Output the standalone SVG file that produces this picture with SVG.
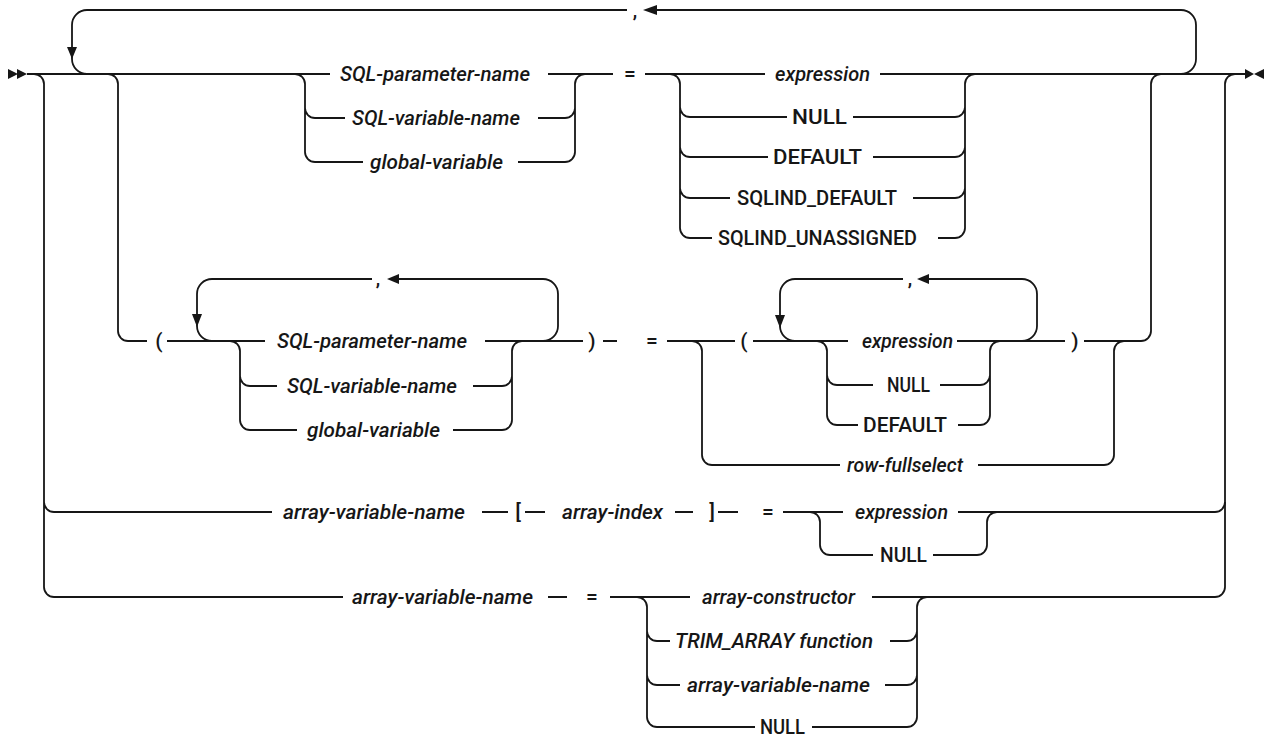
<svg xmlns="http://www.w3.org/2000/svg" width="1269" height="737" viewBox="0 0 1269 737">
<style>
.c{fill:none;stroke:#161616;stroke-width:1.8}
.m{fill:#161616}
text{font-family:Roboto,"Liberation Sans",sans-serif;font-size:21px;font-weight:500;fill:#161616}
.i{font-style:italic}
.s{text-anchor:middle}
.k{font-size:18px;font-weight:bold}
</style>
<rect width="1269" height="737" fill="#fff"/>
<g id="connectors">
<path class="c" d="M27,74 H330 M548,74 H613 M645,74 H765 M880,74 H1245"/>
<path class="c" d="M34,74 A10,10 0 0 1 44,84 V587 A10,10 0 0 0 54,597 H343 M44,502 A10,10 0 0 0 54,512 H272"/>
<path class="c" d="M108,74 A10,10 0 0 1 118,84 V331 A10,10 0 0 0 128,341 H147"/>
<path class="c" d="M627,10 H87 A15,15 0 0 0 72,25 V59 A15,15 0 0 0 87,74"/>
<path class="c" d="M1181,74 A15,15 0 0 0 1196,59 V25 A15,15 0 0 0 1181,10 H657"/>
<path class="c" d="M295,74 A10,10 0 0 1 305,84 V152 A10,10 0 0 0 315,162 H363 M305,108 A10,10 0 0 0 315,118 H345"/>
<path class="c" d="M518,162 H565 A10,10 0 0 0 575,152 V84 A10,10 0 0 1 585,74 M538,118 H565 A10,10 0 0 0 575,108"/>
<path class="c" d="M670,74 A10,10 0 0 1 680,84 V228 A10,10 0 0 0 690,238 H712 M680,107 A10,10 0 0 0 690,117 H787 M680,147 A10,10 0 0 0 690,157 H768 M680,188 A10,10 0 0 0 690,198 H730"/>
<path class="c" d="M938,238 H955 A10,10 0 0 0 965,228 V84 A10,10 0 0 1 975,74 M853,117 H955 A10,10 0 0 0 965,107 M873,157 H955 A10,10 0 0 0 965,147 M913,198 H955 A10,10 0 0 0 965,188"/>
<path class="c" d="M167,341 H265 M372,279 H212 A15,15 0 0 0 197,294 V326 A15,15 0 0 0 212,341 M543,341 A15,15 0 0 0 558,326 V294 A15,15 0 0 0 543,279 H398"/>
<path class="c" d="M230,341 A10,10 0 0 1 240,351 V420 A10,10 0 0 0 250,430 H297 M240,376 A10,10 0 0 0 250,386 H277"/>
<path class="c" d="M485,341 H583 M453,430 H502 A10,10 0 0 0 512,420 V351 A10,10 0 0 1 522,341 M473,386 H502 A10,10 0 0 0 512,376"/>
<path class="c" d="M603,341 H617 M667,341 H735 M753,341 H848"/>
<path class="c" d="M692,341 A10,10 0 0 1 702,351 V455 A10,10 0 0 0 712,465 H840 M978,465 H1104 A10,10 0 0 0 1114,455 V351 A10,10 0 0 1 1124,341"/>
<path class="c" d="M903,279 H795 A15,15 0 0 0 780,294 V326 A15,15 0 0 0 795,341 M1022,341 A15,15 0 0 0 1037,326 V294 A15,15 0 0 0 1022,279 H928"/>
<path class="c" d="M817,341 A10,10 0 0 1 827,351 V415 A10,10 0 0 0 837,425 H858 M827,375 A10,10 0 0 0 837,385 H873"/>
<path class="c" d="M957,341 H1065 M958,425 H980 A10,10 0 0 0 990,415 V351 A10,10 0 0 1 1000,341 M940,385 H980 A10,10 0 0 0 990,375"/>
<path class="c" d="M1084,341 H1141 A10,10 0 0 0 1151,331 V84 A10,10 0 0 1 1161,74"/>
<path class="c" d="M482,512 H508 M525,512 H545 M675,512 H693 M718,512 H738 M783,512 H843 M958,512 H1215 A10,10 0 0 0 1225,502 V84 A10,10 0 0 1 1235,74"/>
<path class="c" d="M810,512 A10,10 0 0 1 820,522 V545 A10,10 0 0 0 830,555 H873 M933,555 H977 A10,10 0 0 0 987,545 V522 A10,10 0 0 1 997,512"/>
<path class="c" d="M548,597 H567 M610,597 H690 M872,597 H1215 A10,10 0 0 0 1225,587 V502"/>
<path class="c" d="M637,597 A10,10 0 0 1 647,607 V717 A10,10 0 0 0 657,727 H755 M647,631 A10,10 0 0 0 657,641 H670 M647,675 A10,10 0 0 0 657,685 H680"/>
<path class="c" d="M812,727 H907 A10,10 0 0 0 917,717 V607 A10,10 0 0 1 927,597 M890,641 H907 A10,10 0 0 0 917,631 M885,685 H907 A10,10 0 0 0 917,675"/>
<polygon class="m" points="8,69 8,79 18,74"/>
<polygon class="m" points="17,69 17,79 27,74"/>
<polygon class="m" points="1245,69 1245,79 1254,74"/>
<polygon class="m" points="1264,69 1264,79 1254,74"/>
<polygon class="m" points="643,10 657,5 657,15"/>
<polygon class="m" points="67,47 77,47 72,59"/>
<polygon class="m" points="387,279 399,274 399,284"/>
<polygon class="m" points="192,314 202,314 197,327"/>
<polygon class="m" points="917,279 929,274 929,284"/>
<polygon class="m" points="775,315 785,315 780,328"/>
</g>
<g id="rep-comma"><text class="s k" x="635" y="17">,</text></g>
<g id="sql-parameter-name-1"><text class="i" x="340" y="81" textLength="190" lengthAdjust="spacingAndGlyphs">SQL-parameter-name</text></g>
<g id="sql-variable-name-1"><text class="i" x="352" y="125" textLength="168" lengthAdjust="spacingAndGlyphs">SQL-variable-name</text></g>
<g id="global-variable-1"><text class="i" x="370" y="169" textLength="133" lengthAdjust="spacingAndGlyphs">global-variable</text></g>
<g id="eq-1"><text class="s" x="630" y="81">=</text></g>
<g id="expression-1"><text class="i" x="775" y="81" textLength="95" lengthAdjust="spacingAndGlyphs">expression</text></g>
<g id="null-1"><text x="792" y="124" textLength="55" lengthAdjust="spacingAndGlyphs">NULL</text></g>
<g id="default-1"><text x="773" y="164" textLength="89" lengthAdjust="spacingAndGlyphs">DEFAULT</text></g>
<g id="sqlind-default"><text x="737" y="205" textLength="160" lengthAdjust="spacingAndGlyphs">SQLIND_DEFAULT</text></g>
<g id="sqlind-unassigned"><text x="718" y="245" textLength="199" lengthAdjust="spacingAndGlyphs">SQLIND_UNASSIGNED</text></g>
<g id="lparen-1"><text class="s" x="159" y="348">(</text></g>
<g id="comma-2"><text class="s k" x="378" y="285">,</text></g>
<g id="sql-parameter-name-2"><text class="i" x="277" y="348" textLength="190" lengthAdjust="spacingAndGlyphs">SQL-parameter-name</text></g>
<g id="sql-variable-name-2"><text class="i" x="287" y="393" textLength="170" lengthAdjust="spacingAndGlyphs">SQL-variable-name</text></g>
<g id="global-variable-2"><text class="i" x="307" y="437" textLength="133" lengthAdjust="spacingAndGlyphs">global-variable</text></g>
<g id="rparen-1"><text class="s" x="592" y="348">)</text></g>
<g id="eq-2"><text class="s" x="652" y="348">=</text></g>
<g id="lparen-2"><text class="s" x="744" y="348">(</text></g>
<g id="comma-3"><text class="s k" x="910" y="285">,</text></g>
<g id="expression-2"><text class="i" x="862" y="348" textLength="91" lengthAdjust="spacingAndGlyphs">expression</text></g>
<g id="null-2"><text x="887" y="392" textLength="43" lengthAdjust="spacingAndGlyphs">NULL</text></g>
<g id="default-2"><text x="863" y="432" textLength="84" lengthAdjust="spacingAndGlyphs">DEFAULT</text></g>
<g id="rparen-2"><text class="s" x="1075" y="348">)</text></g>
<g id="row-fullselect"><text class="i" x="847" y="472" textLength="116" lengthAdjust="spacingAndGlyphs">row-fullselect</text></g>
<g id="array-variable-name-1"><text class="i" x="283" y="519" textLength="182" lengthAdjust="spacingAndGlyphs">array-variable-name</text></g>
<g id="lbracket"><text class="s" x="518" y="519">[</text></g>
<g id="array-index"><text class="i" x="562" y="519" textLength="101" lengthAdjust="spacingAndGlyphs">array-index</text></g>
<g id="rbracket"><text class="s" x="712" y="519">]</text></g>
<g id="eq-3"><text class="s" x="768" y="519">=</text></g>
<g id="expression-3"><text class="i" x="855" y="519" textLength="93" lengthAdjust="spacingAndGlyphs">expression</text></g>
<g id="null-3"><text x="880" y="562" textLength="47" lengthAdjust="spacingAndGlyphs">NULL</text></g>
<g id="array-variable-name-2"><text class="i" x="352" y="604" textLength="181" lengthAdjust="spacingAndGlyphs">array-variable-name</text></g>
<g id="eq-4"><text class="s" x="592" y="604">=</text></g>
<g id="array-constructor"><text class="i" x="702" y="604" textLength="153" lengthAdjust="spacingAndGlyphs">array-constructor</text></g>
<g id="trim-array"><text class="i" x="675" y="648" textLength="198" lengthAdjust="spacingAndGlyphs">TRIM_ARRAY function</text></g>
<g id="array-variable-name-3"><text class="i" x="687" y="692" textLength="183" lengthAdjust="spacingAndGlyphs">array-variable-name</text></g>
<g id="null-4"><text x="760" y="734" textLength="45" lengthAdjust="spacingAndGlyphs">NULL</text></g>
</svg>
